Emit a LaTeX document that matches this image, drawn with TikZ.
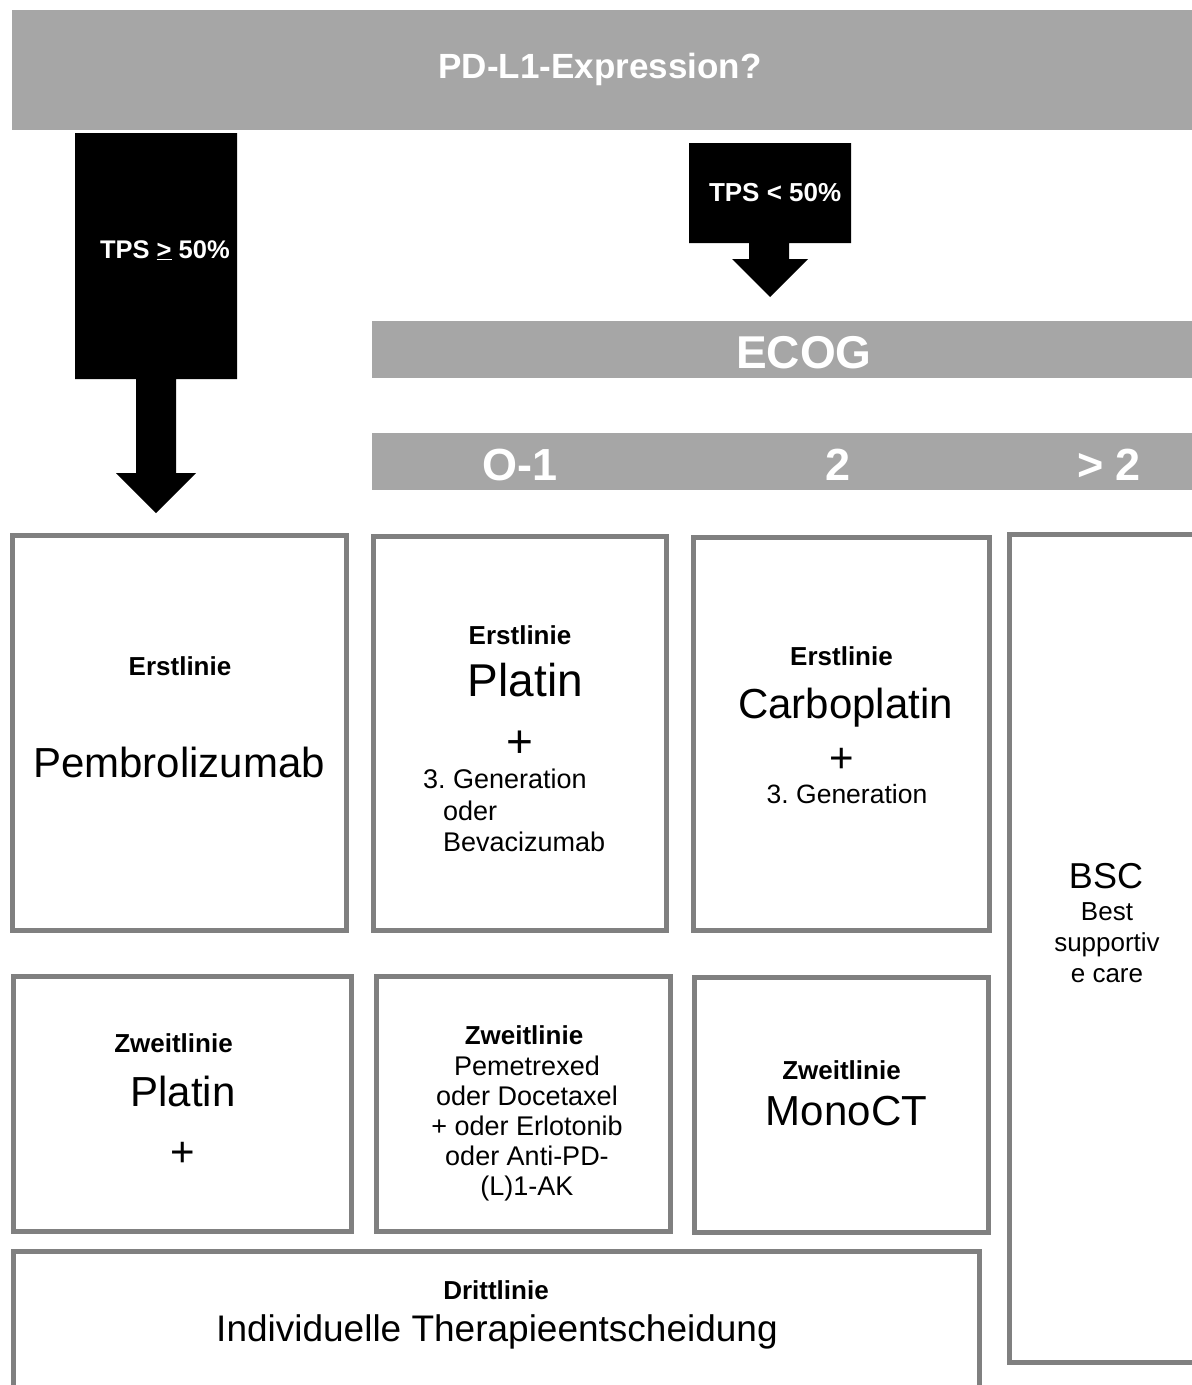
\documentclass[tikz,border=0pt]{standalone}
\usepackage{fontspec}
\setmainfont{Liberation Sans}
\frenchspacing
\definecolor{barfill}{HTML}{A6A6A6}
\definecolor{boxline}{HTML}{808080}
\tikzset{
  txt/.style={inner sep=0pt, outer sep=0pt, anchor=base,
    font=\fontsize{#1}{#1}\selectfont},
  btxt/.style={txt=#1, font=\fontsize{#1}{#1}\selectfont\bfseries},
  wtxt/.style={btxt=#1, text=white},
  box/.style={draw=boxline, line width=5pt, fill=white, inner sep=0pt},
  bar/.style={fill=barfill, draw=none},
  blockarrow/.style={fill=black, draw=none},
}
\begin{document}
\begin{tikzpicture}[x=1pt, y=-1pt]
\path[use as bounding box, clip] (0,0) rectangle (1192,1385);
\fill[white] (0,0) rectangle (1192,1385);

% top question bar
\fill[bar] (12,10) rectangle (1200,130);
\node[wtxt=35] (q) at (600,78) {PD-L1-Expression?};

% block arrow: high expression
\fill[blockarrow] (75,133) -- (237,133) -- (237,379) -- (176,379) -- (176,473)
  -- (196,473) -- (156,513) -- (116,473) -- (136,473) -- (136,379) -- (75,379) -- cycle;
\node[wtxt=25.5, anchor=base west] (hi) at (100,258) {TPS \underline{>} 50\%};

% block arrow: low expression
\fill[blockarrow] (689,143) -- (851,143) -- (851,243) -- (789,243) -- (789,259)
  -- (808,259) -- (770,297) -- (732,259) -- (749,259) -- (749,243) -- (689,243) -- cycle;
\node[wtxt=26, anchor=base west] (lo) at (709,201) {TPS < 50\%};

% ECOG bars
\fill[bar] (372,321) rectangle (1200,378);
\node[wtxt=46] (ecog) at (804,368) {ECOG};
\fill[bar] (372,433) rectangle (1200,490);
\node[wtxt=45] (e01) at (520,480) {O-1};
\node[wtxt=45] (e2) at (838,480) {2};
\node[wtxt=45] (e3) at (1109,480) {> 2};

% treatment boxes
\node[box, minimum width=334, minimum height=395] (b1) at (179.5,733) {};
\node[box, minimum width=293, minimum height=394] (b2) at (520,733.5) {};
\node[box, minimum width=296, minimum height=393] (b3) at (841.5,734) {};
\node[box, minimum width=190.5, minimum height=828] (bsc) at (1104.75,948.5) {};
\node[box, minimum width=338, minimum height=255] (b4) at (182.5,1104) {};
\node[box, minimum width=294, minimum height=255] (b5) at (523.5,1104) {};
\node[box, minimum width=294, minimum height=255] (b6) at (841.5,1105) {};
\node[box, minimum width=966, minimum height=148.5] (b7) at (496.5,1325.75) {};

% first line, TPS >= 50%
\node[btxt=26] (b1a) at (180,675) {Erstlinie};
\node[txt=42] (b1b) at (179,777) {Pembrolizumab};

% first line, ECOG 0-1
\node[btxt=26] (b2a) at (520,644) {Erstlinie};
\node[txt=46] (b2b) at (525.5,696) {Platin};
\node[txt=46] (b2c) at (519.5,757) {+};
\node[txt=27, anchor=base west] (b2d) at (423,788) {3. Generation};
\node[txt=27, anchor=base west] (b2e) at (443,820) {oder};
\node[txt=27, anchor=base west] (b2f) at (443,851) {Bevacizumab};

% first line, ECOG 2
\node[btxt=26] (b3a) at (841.5,665) {Erstlinie};
\node[txt=42] (b3b) at (845.5,718) {Carboplatin};
\node[txt=42] (b3c) at (842,772) {+};
\node[txt=26.5] (b3d) at (847,803) {3. Generation};

% best supportive care
\node[txt=36] (bsca) at (1106,888) {BSC};
\node[txt=26] (bscb) at (1107,920) {Best};
\node[txt=26] (bscc) at (1107,951) {supportiv};
\node[txt=26] (bscd) at (1107,982) {e care};

% second line
\node[btxt=26] (b4a) at (173.5,1052) {Zweitlinie};
\node[txt=42] (b4b) at (183,1106) {Platin};
\node[txt=42] (b4c) at (182.5,1166) {+};

\node[btxt=26] (b5a) at (524,1044) {Zweitlinie};
\node[txt=27] (b5b) at (527,1075) {Pemetrexed};
\node[txt=27] (b5c) at (527,1105) {oder Docetaxel};
\node[txt=27] (b5d) at (527,1135) {+ oder Erlotonib};
\node[txt=27] (b5e) at (527,1165) {oder Anti-PD-};
\node[txt=27] (b5f) at (527,1195) {(L)1-AK};

\node[btxt=26] (b6a) at (841.5,1079) {Zweitlinie};
\node[txt=42] (b6b) at (846.5,1125) {MonoCT};

% third line
\node[btxt=26] (b7a) at (496,1299) {Drittlinie};
\node[txt=37] (b7b) at (497,1341) {Individuelle Therapieentscheidung};
\end{tikzpicture}
\end{document}
